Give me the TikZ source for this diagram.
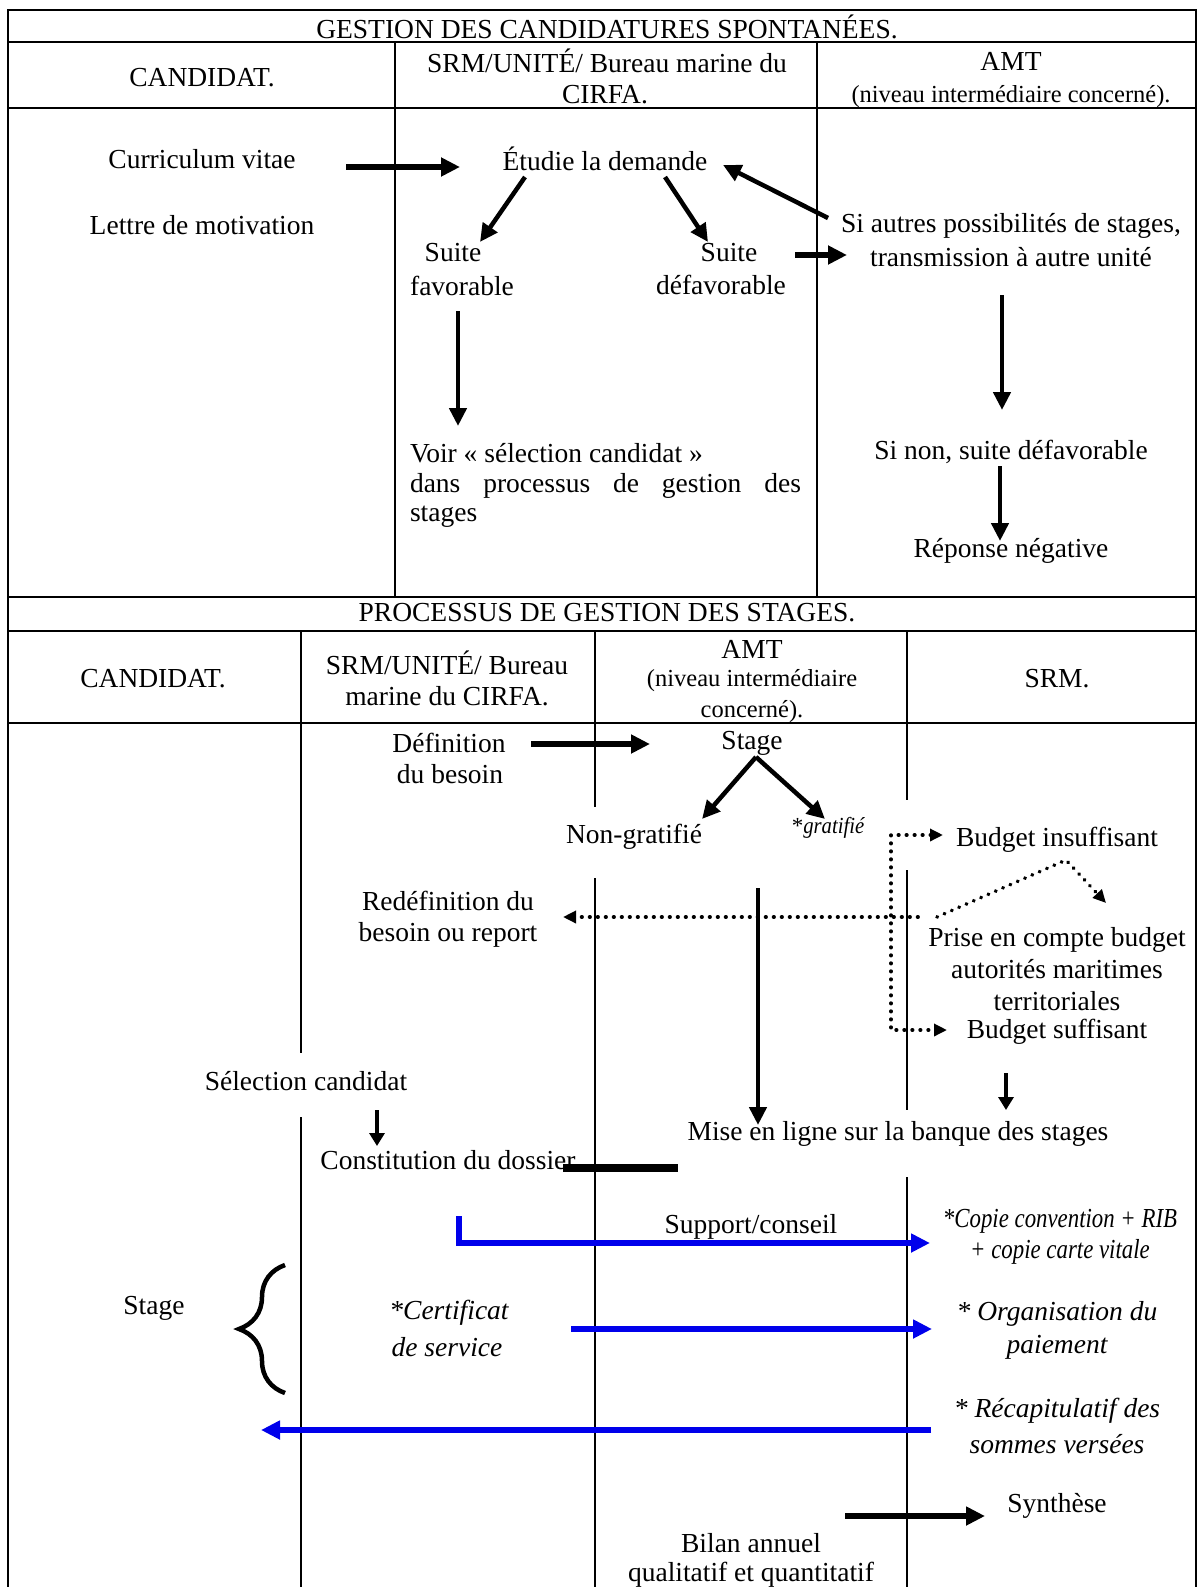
\documentclass[tikz,border=0pt]{standalone}
\usepackage{fontspec}
\setmainfont{Liberation Serif}
\usetikzlibrary{arrows.meta,decorations.pathreplacing}
\definecolor{arrblue}{RGB}{0,0,235}
\begin{document}
\begin{tikzpicture}[x=1pt,y=-1pt,
  every node/.style={inner sep=0pt, outer sep=0pt, font=\fontsize{27.5}{32}\selectfont, align=center},
  small/.style={font=\fontsize{24.5}{30}\selectfont},
  grid/.style={line width=1.3pt},
  bigarrow/.style={line width=5.5pt, -{Triangle[length=19pt,width=18pt]}},
  medarrow/.style={line width=4.5pt, -{Triangle[length=18pt,width=17pt]}},
  thinarrow/.style={line width=3.5pt, -{Triangle[length=13pt,width=15pt]}},
  bluearrow/.style={draw=arrblue, line width=6pt, -{Triangle[length=19pt,width=18pt]}},
  dotline/.style={line width=3.8pt, line cap=round, dash pattern=on 0.4pt off 7.6pt},
  dotarrow/.style={dotline, -{Triangle[length=13pt,width=12pt]}},
]
\useasboundingbox (0,0) rectangle (1197,1587);
\fill[white] (0,0) rectangle (1197,1587);

% ---------- table grid ----------
\draw[grid] (8,1587) -- (8,10) -- (1196,10) -- (1196,1587);
\foreach \yy in {42,108,597,631,723} \draw[grid] (8,\yy) -- (1196,\yy);
\draw[grid] (395,42) -- (395,597);
\draw[grid] (817,42) -- (817,597);
\draw[grid] (301,631) -- (301,1053);
\draw[grid] (301,1117) -- (301,1587);
\draw[grid] (595,631) -- (595,807);
\draw[grid] (595,878) -- (595,1587);
\draw[grid] (907,631) -- (907,800);
\draw[grid] (907,870) -- (907,1110);
\draw[grid] (907,1177) -- (907,1587);

% ---------- section 1 ----------
\node (t1) at (607,27) {GESTION DES CANDIDATURES SPONTANÉES.};
\node (h1a) at (202,78) {CANDIDAT.};
\node (h1b1) at (607,61) {SRM/UNITÉ/ Bureau marine du};
\node (h1b2) at (605,95) {CIRFA.};
\node (h1c1) at (1011,61) {AMT};
\node[small] (h1c2) at (1011,97) {(niveau intermédiaire concerné).};

\node (cv) at (202,159) {Curriculum vitae};
\node (lm) at (202,225) {Lettre de motivation};
\node (etu) at (605,159) {Étudie la demande};
\node (sf1) at (453,253) {Suite};
\node (sf2) at (462,286) {favorable};
\node (sd1) at (729,253) {Suite};
\node (sd2) at (721,285) {défavorable};
\node (sa1) at (1011,226) {Si autres possibilités de stages,};
\node (sa2) at (1011,257) {transmission à autre unité};
\node[anchor=west] (v1) at (410,453) {Voir « sélection candidat »};
\node[anchor=west] (v2) at (410,486) {\makebox[391pt][s]{dans processus de gestion des}};
\node[anchor=west] (v3) at (410,517) {stages};
\node (sn) at (1011,452) {Si non, suite défavorable};
\node (rn) at (1011,551) {Réponse négative};

\coordinate (a1s) at (346,167); \coordinate (a1e) at (460,167);
\coordinate (a2s) at (525,177); \coordinate (a2e) at (480,242);
\coordinate (a3s) at (665,177); \coordinate (a3e) at (708,242);
\coordinate (a4s) at (828,218); \coordinate (a4e) at (723,165);
\coordinate (a5s) at (795,255); \coordinate (a5e) at (847,255);
\coordinate (a6s) at (1002,295); \coordinate (a6e) at (1002,410);
\coordinate (a7s) at (458,311); \coordinate (a7e) at (458,426);
\coordinate (a8s) at (1000,466); \coordinate (a8e) at (1000,541);
\draw[bigarrow] (a1s) -- (a1e);
\draw[medarrow] (a2s) -- (a2e);
\draw[medarrow] (a3s) -- (a3e);
\draw[medarrow] (a4s) -- (a4e);
\draw[bigarrow] (a5s) -- (a5e);
\draw[medarrow] (a6s) -- (a6e);
\draw[medarrow] (a7s) -- (a7e);
\draw[medarrow] (a8s) -- (a8e);

% ---------- section 2 ----------
\node (t2) at (607,613) {PROCESSUS DE GESTION DES STAGES.};
\node (h2a) at (153,679) {CANDIDAT.};
\node (h2b1) at (447,663) {SRM/UNITÉ/ Bureau};
\node (h2b2) at (447,696) {marine du CIRFA.};
\node (h2c1) at (752,649) {AMT};
\node[small] (h2c2) at (752,681) {(niveau intermédiaire};
\node[small] (h2c3) at (752,712) {concerné).};
\node (h2d) at (1057,679) {SRM.};

\node (def1) at (449,743) {Définition};
\node (def2) at (450,774) {du besoin};
\node (stg) at (752,743) {Stage};
\node (ng) at (634,837) {Non-gratifié};
\node (gr) at (828,828) {\fontsize{23}{26}\selectfont *\scalebox{0.9}[1]{\itshape gratifié}};
\node (bi) at (1057,840) {Budget insuffisant};
\node (red1) at (448,901) {Redéfinition du};
\node (red2) at (448,935) {besoin ou report};
\node (pc) at (1057,969) {Prise en compte budget\\autorités maritimes\\territoriales};
\node (bs) at (1057,1032) {Budget suffisant};
\node (sel) at (306,1081) {Sélection candidat};
\node (mel) at (898,1134) {Mise en ligne sur la banque des stages};
\node (cd) at (448,1160) {Constitution du dossier};
\node (sc) at (751,1227) {Support/conseil};
\node (cc1) at (1060,1221) {\scalebox{0.83}[1]{\itshape *Copie convention + RIB}};
\node (cc2) at (1060,1252) {\scalebox{0.83}[1]{\itshape + copie carte vitale}};
\node (stg2) at (154,1308) {Stage};
\node (cs1) at (449,1313) {\itshape *Certificat};
\node (cs2) at (447,1347) {\itshape de service};
\node (op1) at (1057,1314) {\itshape * Organisation du};
\node (op2) at (1057,1347) {\itshape paiement};
\node (rc1) at (1057,1411) {\itshape * Récapitulatif des};
\node (rc2) at (1057,1444) {\itshape sommes versées};
\node (syn) at (1057,1506) {Synthèse};
\node (bil1) at (751,1543) {Bilan annuel};
\node (bil2) at (751,1575) {qualitatif et quantitatif};

\coordinate (b1s) at (531,744); \coordinate (b1e) at (650,744);
\coordinate (b2s) at (756,757); \coordinate (b2e) at (702,819);
\coordinate (b3e) at (825,819);
\draw[bigarrow] (b1s) -- (b1e);
\draw[medarrow] (b2s) -- (b2e);
\draw[medarrow] (b2s) -- (b3e);

% dotted budget paths
\coordinate (d1) at (943,835); \coordinate (d2) at (891,835);
\coordinate (d3) at (891,1030); \coordinate (d4) at (947,1030);
\draw[dotline, {Triangle[length=13pt,width=12pt]}-{Triangle[length=13pt,width=12pt]}] (d1) -- (d2) -- (d3) -- (d4);
\coordinate (d5) at (918,917); \coordinate (d6) at (563,917);
\draw[dotarrow] (d5) -- (d6);
\coordinate (d7) at (937,917); \coordinate (d8) at (1066,860); \coordinate (d9) at (1106,903);
\draw[dotarrow] (d7) -- (d8) -- (d9);

\coordinate (m1s) at (758,888); \coordinate (m1e) at (758,1125);
\draw[medarrow] (m1s) -- (m1e);
\coordinate (m2s) at (1006,1073); \coordinate (m2e) at (1006,1110);
\draw[thinarrow] (m2s) -- (m2e);
\coordinate (m3s) at (377,1110); \coordinate (m3e) at (377,1146);
\draw[thinarrow] (m3s) -- (m3e);
\coordinate (bar1) at (563,1168); \coordinate (bar2) at (678,1168);
\draw[line width=8pt] (bar1) -- (bar2);

% blue arrows
\coordinate (e1s) at (459,1216); \coordinate (e1c) at (459,1243); \coordinate (e1e) at (930,1243);
\draw[bluearrow] (e1s) -- (e1c) -- (e1e);
\coordinate (e2s) at (571,1329); \coordinate (e2e) at (932,1329);
\draw[bluearrow] (e2s) -- (e2e);
\coordinate (e3s) at (931,1430); \coordinate (e3e) at (261,1430);
\draw[bluearrow] (e3s) -- (e3e);

% brace
\coordinate (br1) at (285,1393); \coordinate (br2) at (285,1265);
\draw[line width=4.5pt, decorate, decoration={brace, amplitude=46pt}] (br1) -- (br2);

\coordinate (f1s) at (845,1516); \coordinate (f1e) at (985,1516);
\draw[bigarrow] (f1s) -- (f1e);
\end{tikzpicture}
\end{document}
